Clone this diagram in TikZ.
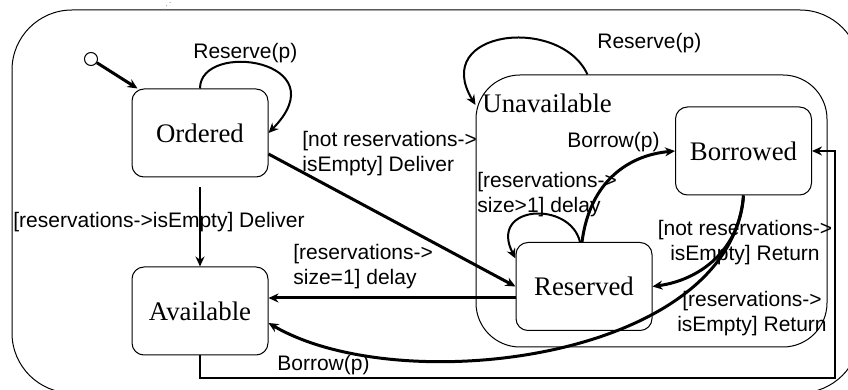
\documentclass[tikz,border=0pt]{standalone}
\usepackage{fontspec}
\setmainfont{Liberation Serif}
\setsansfont{Liberation Sans}
\usetikzlibrary{arrows.meta}
\begin{document}
\begin{tikzpicture}[x=0.5pt,y=-0.5pt,>={Stealth[length=5pt,width=4.5pt]},
 state/.style={draw,rounded corners=6pt,line width=0.5pt,
  minimum width=68pt,minimum height=44pt,font=\fontsize{13.4}{16}\selectfont},
 lbl/.style={inner sep=0pt,align=left,font=\sffamily\fontsize{10.5}{12.5}\selectfont},
 trans/.style={->,line width=1pt},
 heavy/.style={->,line width=1.5pt}]
 \useasboundingbox (0,0) rectangle (848,390);
 \clip (0,0) rectangle (848,390);
 \node[draw,line width=0.5pt,rounded corners=30pt,minimum width=424pt,minimum height=191.5pt] (lib) at (436,201.5) {};
 \draw[dotted,gray] ([xshift=-136.5pt]lib.north) -- ++(12,-12);
 \node[draw,line width=0.5pt,rounded corners=22pt,minimum width=175.5pt,minimum height=136pt] (unavail) at (651.5,211) {};
 \node[anchor=west,inner sep=0pt,font=\fontsize{13.4}{16}\selectfont] (unavailname) at (482,103) {Unavailable};
 \node[draw,circle,line width=0.5pt,inner sep=0pt,minimum size=6.5pt] (init) at (91,59) {};
 \node[state] (ordered) at (200,133) {Ordered};
 \node[state] (available) at (200,311) {Available};
 \node[state] (reserved) at (584,286.5) {Reserved};
 \node[state] (borrowed) at (743.5,151) {Borrowed};
 \coordinate (dly) at (400,298);
 \coordinate (bend) at (835,378);
 \draw[heavy] (init) -- ([xshift=3pt]ordered.north west);
 \draw[trans] (ordered.north) .. controls (200,40) and (340,60) .. (ordered.east);
 \draw[trans] ([yshift=-5pt]ordered.south) -- (available.north);
 \draw[heavy] ([yshift=-10.5pt]ordered.east) -- (reserved.west);
 \draw[heavy] (reserved.west |- dly) -- (available.east |- dly);
 \draw[trans] ([xshift=-32pt]unavail.north) .. controls (560,15) and (430,30) .. ([yshift=53pt]unavail.west);
 \draw[trans] ([xshift=-2pt]reserved.north) .. controls (570,200) and (488,205) .. ([yshift=14pt]reserved.west);
 \draw[heavy] ([xshift=-1pt]reserved.north) .. controls (590,180) and (630,155) .. (borrowed.west);
 \draw[heavy] (borrowed.south) .. controls (740,250) and (700,280) .. (reserved.east);
 \draw[heavy] (borrowed.south) .. controls (730,360) and (400,400) .. ([yshift=-6pt]available.east);
 \draw[->,line width=1.3pt] (available.south) |- (bend) |- (borrowed.east);
 \node[lbl,anchor=west] (l1) at (193,53) {Reserve(p)};
 \node[lbl,anchor=west] (l2) at (302,153.5) {[not reservations->\\isEmpty] Deliver};
 \node[lbl,anchor=west] (l3) at (13,222) {[reservations->isEmpty] Deliver};
 \node[lbl,anchor=west] (l4) at (293,266.5) {[reservations->\\size=1] delay};
 \node[lbl,anchor=west] (l5) at (477,194.5) {[reservations->\\size>1] delay};
 \node[lbl,anchor=west] (l6) at (567,142) {Borrow(p)};
 \node[lbl,anchor=west] (l7) at (597,43) {Reserve(p)};
 \node[lbl,align=center] (l8) at (745,243) {[not reservations->\\isEmpty] Return};
 \node[lbl,align=center] (l9) at (752,314) {[reservations->\\isEmpty] Return};
 \node[lbl,anchor=west] (l10) at (277,365) {Borrow(p)};
\end{tikzpicture}
\end{document}
